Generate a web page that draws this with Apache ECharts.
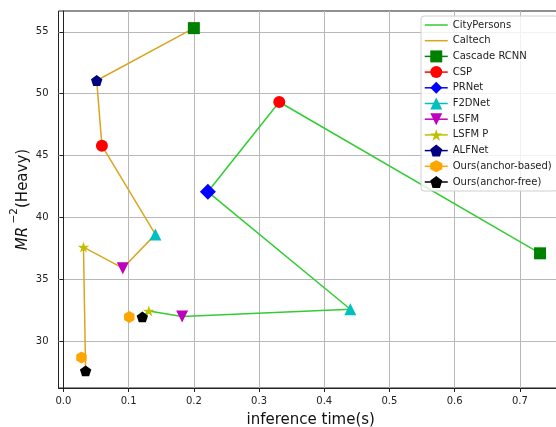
<!DOCTYPE html>
<html>
<head>
<meta charset="utf-8">
<script src="https://cdn.jsdelivr.net/npm/echarts@6/dist/echarts.min.js"></script>
<style>html,body{margin:0;padding:0;background:#fff;}#chart{width:556px;height:427px;}</style>
</head>
<body>
<div id="chart"></div>
<script>
// ---- data ----
const methods = ['Cascade RCNN', 'CSP', 'PRNet', 'F2DNet', 'LSFM', 'LSFM P', 'ALFNet', 'Ours(anchor-based)', 'Ours(anchor-free)'];
const cityTime = [0.731, 0.331, 0.2215, 0.44, 0.182, 0.131, null, 0.101, 0.121];
const cityMR   = [37.1, 49.33, 42.07, 32.58, 31.99, 32.44, null, 31.96, 31.96];
const caltechTime = [0.2, 0.059, null, 0.141, 0.091, 0.0307, 0.051, 0.0276, 0.034];
const caltechMR   = [55.3, 45.8, null, 38.63, 35.9, 37.6, 51.07, 28.69, 27.6];
const cityOrder = [8, 5, 4, 3, 2, 1, 0];
const caltechOrder = [8, 5, 4, 3, 1, 6, 0];
const xTicks = [0, 0.1, 0.2, 0.3, 0.4, 0.5, 0.6, 0.7];
const yTicks = [30, 35, 40, 45, 50, 55];

// ---- styles ----
const FONT = 'DejaVu Sans';
const methodColors = ['#008000', '#ff0000', '#0000ff', '#00bfbf', '#bf00bf', '#bfbf00', '#000080', '#ffa500', '#000000'];
const STAR = 'path://M0,-100 L22.45,-30.9 L95.1,-30.9 L36.3,11.8 L58.8,80.9 L0,38.2 L-58.8,80.9 L-36.3,11.8 L-95.1,-30.9 L-22.45,-30.9 Z';
const PENT = 'path://M0,-100 L95.1,-30.9 L58.8,80.9 L-58.8,80.9 L-95.1,-30.9 Z';
const HEX = 'path://M0,-100 L86.6,-50 L86.6,50 L0,100 L-86.6,50 L-86.6,-50 Z';
const TRI_DOWN = 'path://M0,0 L200,0 L100,200 Z';
const methodSymbols = ['rect', 'circle', 'diamond', 'triangle', TRI_DOWN, STAR, PENT, HEX, PENT];
const methodSizes = [[12, 12], [12, 12], [16, 16], [12, 12], [12, 12], [11.4, 10.9], [11.4, 10.9], [10.4, 12], [11.4, 10.9]];

function pts(order, xs, ys) { return order.map(i => [xs[i], ys[i]]); }

const series = [
  { name: 'CityPersons', type: 'line', z: 2, symbol: 'none', showSymbol: false,
    color: '#32cd32', lineStyle: { width: 1.5, color: '#32cd32' },
    data: pts(cityOrder, cityTime, cityMR) },
  { name: 'Caltech', type: 'line', z: 2, symbol: 'none', showSymbol: false,
    color: '#daa520', lineStyle: { width: 1.5, color: '#daa520' },
    data: pts(caltechOrder, caltechTime, caltechMR) }
];
methods.forEach((m, i) => {
  const d = [];
  if (cityTime[i] != null) d.push([cityTime[i], cityMR[i]]);
  if (caltechTime[i] != null) d.push([caltechTime[i], caltechMR[i]]);
  series.push({
    name: m, type: 'line', z: 3, symbol: methodSymbols[i], symbolSize: methodSizes[i],
    showSymbol: true, color: methodColors[i],
    itemStyle: { color: methodColors[i], borderWidth: 0 },
    lineStyle: { width: 0, opacity: 0 },
    animation: false, data: d
  });
});

const legendData = [
  { name: 'CityPersons', itemStyle: { opacity: 0 }, lineStyle: { width: 1.5, opacity: 1 } },
  { name: 'Caltech', itemStyle: { opacity: 0 }, lineStyle: { width: 1.5, opacity: 1 } }
].concat(methods.map(m => ({ name: m, lineStyle: { width: 1.5, opacity: 1 } })));

const chart = echarts.init(document.getElementById('chart'), null, { renderer: 'canvas' });
chart.setOption({
  animation: false,
  backgroundColor: '#fff',
  grid: { left: 58.5, top: 11, right: -7, bottom: 39, show: true, borderColor: '#222', borderWidth: 1,
          containLabel: false, outerBoundsMode: 'none' },
  xAxis: {
    type: 'value', min: -0.0076, max: 0.7662,
    name: 'inference time(s)', nameLocation: 'middle', nameGap: 25,
    nameTextStyle: { fontFamily: FONT, fontSize: 15, color: '#111' },
    axisLine: { show: true, lineStyle: { color: '#222', width: 1 } },
    axisTick: { show: true, inside: false, length: 4, customValues: xTicks, lineStyle: { color: '#222' } },
    axisLabel: { customValues: xTicks, margin: 8, fontFamily: FONT, fontSize: 10, color: '#222', formatter: v => v.toFixed(1) },
    splitLine: { show: true, lineStyle: { color: '#b8b8b8', width: 1 } }
  },
  yAxis: {
    type: 'value', min: 26.215, max: 56.685,
    name: '{it|MR}{sup| −2}{n|(Heavy)}', nameLocation: 'middle', nameGap: 28, nameRotate: 90,
    nameMoveOverlap: false,
    nameTextStyle: { fontFamily: FONT, fontSize: 15, color: '#111',
      rich: { it: { fontFamily: FONT, fontStyle: 'italic', fontSize: 15, color: '#111', lineHeight: 22, verticalAlign: 'bottom' },
              sup: { fontFamily: FONT, fontSize: 10.5, color: '#111', lineHeight: 22, verticalAlign: 'top' },
              n: { fontFamily: FONT, fontSize: 15, color: '#111', lineHeight: 22, verticalAlign: 'bottom' } } },
    axisLine: { show: true, lineStyle: { color: '#222', width: 1 } },
    axisTick: { show: true, inside: false, length: 4, customValues: yTicks, lineStyle: { color: '#222' } },
    axisLabel: { customValues: yTicks, margin: 10, fontFamily: FONT, fontSize: 10, color: '#222' },
    splitLine: { show: true, lineStyle: { color: '#b8b8b8', width: 1 } }
  },
  legend: {
    orient: 'vertical', left: 421, top: 16,
    itemWidth: 23, itemHeight: 15, itemGap: 3.7,
    padding: [3, 6, 3, 3],
    backgroundColor: 'rgba(255,255,255,0.8)', borderColor: '#d0d0d0', borderWidth: 1, borderRadius: 3,
    textStyle: { fontFamily: FONT, fontSize: 10, color: '#222' },
    data: legendData,
    selectedMode: false
  },
  series: series
});
</script>
</body>
</html>
